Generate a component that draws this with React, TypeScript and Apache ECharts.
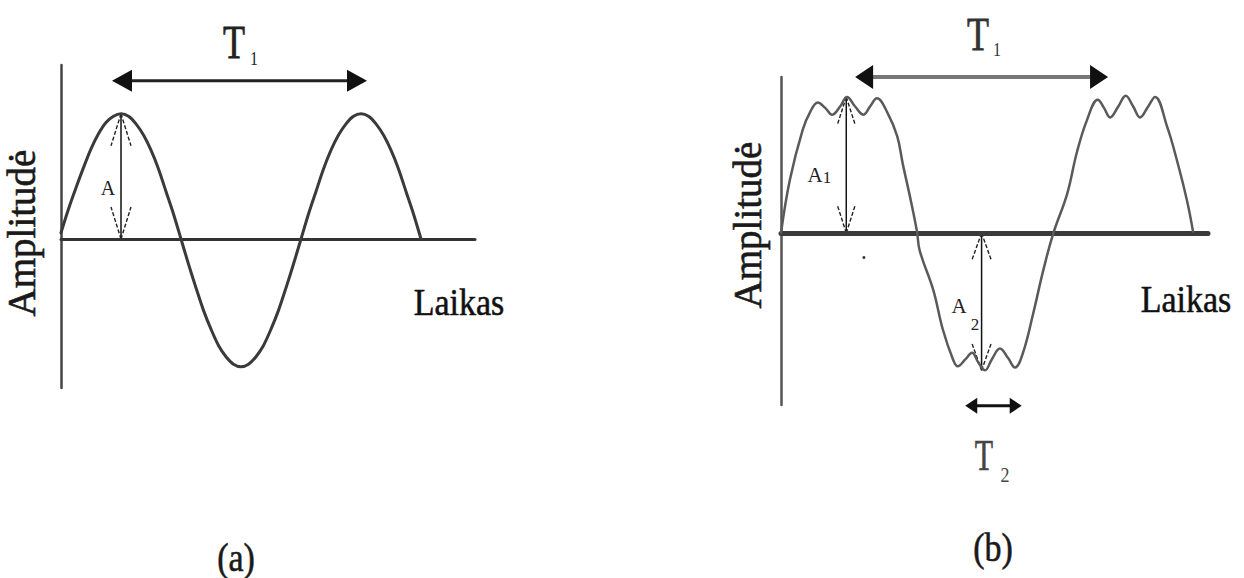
import React, { useEffect, useRef } from "react";
import * as echarts from "echarts";

// Panel (a): pure sine. Time in quarter-periods, amplitude relative to A.
const TIME_A = [0, 0.125, 0.25, 0.375, 0.5, 0.625, 0.75, 0.875, 1, 1.125, 1.25, 1.375, 1.5, 1.625, 1.75, 1.875, 2, 2.125, 2.25, 2.375, 2.5, 2.625, 2.75, 2.875, 3, 3.125, 3.25, 3.375, 3.5, 3.625, 3.75, 3.875, 4, 4.125, 4.25, 4.375, 4.5, 4.625, 4.75, 4.875, 5, 5.125, 5.25, 5.375, 5.5, 5.625, 5.75, 5.875, 6];
const AMP_A = [0.05, 0.24, 0.41, 0.57, 0.72, 0.84, 0.93, 0.98, 1.0, 0.98, 0.92, 0.83, 0.71, 0.56, 0.38, 0.2, 0.0, -0.2, -0.39, -0.57, -0.72, -0.85, -0.94, -1.0, -1.02, -1.0, -0.94, -0.85, -0.72, -0.57, -0.39, -0.2, 0.0, 0.2, 0.38, 0.56, 0.71, 0.83, 0.92, 0.98, 1.0, 0.98, 0.92, 0.83, 0.71, 0.56, 0.38, 0.2, 0.0];

// Panel (b): sine with a small ripple (T2) on top.
const TIME_B = [0, 0.13, 0.32, 0.43, 0.54, 0.65, 0.75, 0.87, 0.97, 1.09, 1.21, 1.31, 1.41, 1.57, 1.71, 1.79, 1.9, 2.0, 2.04, 2.24, 2.38, 2.53, 2.6, 2.71, 2.81, 2.9, 3.0, 3.1, 3.22, 3.34, 3.44, 3.56, 3.71, 3.85, 4.0, 4.21, 4.35, 4.5, 4.66, 4.75, 4.84, 4.96, 5.07, 5.18, 5.28, 5.4, 5.5, 5.68, 5.82, 5.97, 6.06];
const AMP_B = [0.0, 0.39, 0.76, 0.89, 0.96, 0.92, 0.87, 0.93, 1.0, 0.93, 0.87, 0.93, 0.99, 0.88, 0.71, 0.51, 0.26, 0.01, -0.13, -0.42, -0.71, -0.93, -0.98, -0.93, -0.88, -0.95, -1.01, -0.93, -0.85, -0.92, -0.99, -0.88, -0.59, -0.29, -0.01, 0.29, 0.59, 0.83, 0.98, 0.92, 0.85, 0.93, 1.01, 0.93, 0.85, 0.93, 1.0, 0.78, 0.54, 0.24, 0.01];

// Axis ranges (data units)
const X_RANGE_A = [0, 6.9];
const Y_RANGE_A = [-1.19, 1.39];
const X_RANGE_B = [0, 6.28];
const Y_RANGE_B = [-1.265, 1.147];

// Annotation anchors (data units)
const T1_A = [[0.85, 1.264], [5.1, 1.264]];
const AMP_ARROW_A = [[1.0, 1.0], [1.0, 0.0]];
const T1_B = [[1.09, 1.147], [4.81, 1.147]];
const A1_ARROW_B = [[0.96, 1.0], [0.96, 0.0]];
const A2_ARROW_B = [[2.95, 0.0], [2.95, -1.01]];
const T2_B = [[2.71, -1.27], [3.54, -1.27]];
const DOT_B = [1.22, -0.18];

const SERIF = "'Liberation Serif', 'Times New Roman', serif";

function zip(xs: number[], ys: number[]) {
  return xs.map((x, i) => [x, ys[i]]);
}

function hiddenAxis(gridIndex: number, range: number[], color: string, width: number) {
  return {
    type: "value",
    gridIndex,
    min: range[0],
    max: range[1],
    axisLine: { show: true, onZero: true, lineStyle: { color, width } },
    axisTick: { show: false },
    axisLabel: { show: false },
    splitLine: { show: false },
  };
}

export default function App() {
  const ref = useRef<HTMLDivElement>(null);

  useEffect(() => {
    const chart = echarts.init(ref.current!, null, { renderer: "svg" });
    chart.setOption({
      animation: false,
      backgroundColor: "#ffffff",
      grid: [
        { left: 61, top: 65, width: 414, height: 323 },
        { left: 781, top: 77, width: 427, height: 328 },
      ],
      xAxis: [hiddenAxis(0, X_RANGE_A, "#333", 3), hiddenAxis(1, X_RANGE_B, "#3a3a3a", 5)],
      yAxis: [hiddenAxis(0, Y_RANGE_A, "#444", 2.5), hiddenAxis(1, Y_RANGE_B, "#555", 2.5)],
      series: [
        {
          type: "line",
          xAxisIndex: 0,
          yAxisIndex: 0,
          data: zip(TIME_A, AMP_A),
          smooth: 0.3,
          showSymbol: false,
          clip: false,
          lineStyle: { color: "#3a3a3a", width: 3, cap: "round", join: "round" },
        },
        {
          type: "line",
          xAxisIndex: 1,
          yAxisIndex: 1,
          data: zip(TIME_B, AMP_B),
          smooth: 0.4,
          showSymbol: false,
          clip: false,
          lineStyle: { color: "#5a5a5a", width: 2.5, cap: "round", join: "round" },
        },
      ],
    });

    const px = (g: number, pt: number[]) => chart.convertToPixel({ gridIndex: g } as any, pt) as number[];

    const els: any[] = [];

    const filledArrow = (g: number, seg: number[][], lineColor: string, lw: number, headColor: string, len: number, half: number) => {
      const a = px(g, seg[0]);
      const b = px(g, seg[1]);
      const dx = b[0] - a[0], dy = b[1] - a[1];
      const L = Math.hypot(dx, dy);
      const ux = dx / L, uy = dy / L;
      const nx = -uy, ny = ux;
      els.push({
        type: "line",
        shape: { x1: a[0] + ux * len * 0.8, y1: a[1] + uy * len * 0.8, x2: b[0] - ux * len * 0.8, y2: b[1] - uy * len * 0.8 },
        style: { stroke: lineColor, lineWidth: lw },
      });
      const head = (tip: number[], dirx: number, diry: number) => {
        const bx = tip[0] - dirx * len, by = tip[1] - diry * len;
        els.push({
          type: "polygon",
          shape: { points: [[tip[0], tip[1]], [bx + nx * half, by + ny * half], [bx - nx * half, by - ny * half]] },
          style: { fill: headColor },
        });
      };
      head(b, ux, uy);
      head(a, -ux, -uy);
    };

    const openArrow = (g: number, seg: number[][], len: number, half: number) => {
      const a = px(g, seg[0]);
      const b = px(g, seg[1]);
      const dx = b[0] - a[0], dy = b[1] - a[1];
      const L = Math.hypot(dx, dy);
      const ux = dx / L, uy = dy / L;
      const nx = -uy, ny = ux;
      els.push({ type: "line", shape: { x1: a[0], y1: a[1], x2: b[0], y2: b[1] }, style: { stroke: "#111", lineWidth: 1.5 } });
      const arms = (tip: number[], dirx: number, diry: number) => {
        const bx = tip[0] - dirx * len, by = tip[1] - diry * len;
        [1, -1].forEach((s) => {
          els.push({
            type: "line",
            shape: { x1: tip[0], y1: tip[1], x2: bx + s * nx * half, y2: by + s * ny * half },
            style: { stroke: "#222", lineWidth: 1.4, lineDash: [4, 2] },
          });
        });
      };
      arms(a, -ux, -uy);
      arms(b, ux, uy);
    };

    filledArrow(0, T1_A, "#222", 3, "#111", 20, 11);
    filledArrow(1, T1_B, "#777", 4, "#111", 18, 12);
    filledArrow(1, T2_B, "#111", 3, "#111", 12, 8);
    openArrow(0, AMP_ARROW_A, 32, 10);
    openArrow(1, A1_ARROW_B, 28, 9);
    openArrow(1, A2_ARROW_B, 28, 10);

    const d = px(1, DOT_B);
    els.push({ type: "circle", shape: { cx: d[0], cy: d[1], r: 1.5 }, style: { fill: "#333" } });

    const text = (t: string, x: number, y: number, fs: number, opts: any = {}) => {
      const color = opts.color || "#1a1a1a";
      els.push({
        type: "text",
        x,
        y,
        rotation: opts.rot || 0,
        scaleY: opts.sy || 1,
        scaleX: opts.sx || 1,
        style: {
          text: t,
          fontFamily: SERIF,
          fontSize: fs,
          fill: color,
          stroke: opts.bold ? color : undefined,
          lineWidth: opts.bold ? opts.bold : 0,
          align: "center",
          verticalAlign: "middle",
        },
      });
    };

    text("Amplitudė", 21, 233, 39, { rot: Math.PI / 2, bold: 0.6 });
    text("Amplitudė", 747, 225, 39, { rot: Math.PI / 2, bold: 0.6 });
    text("Laikas", 459, 302, 34, { sy: 1.12, color: "#111", bold: 0.5 });
    text("Laikas", 1186, 299, 34, { sy: 1.12, color: "#111", bold: 0.5 });
    text("T", 234, 42, 36, { sy: 1.3, color: "#222", bold: 0.6 });
    text("1", 254, 58, 16, { sy: 1.2, color: "#222" });
    text("T", 978, 34, 36, { sy: 1.3, color: "#333", bold: 0.6 });
    text("1", 997, 49, 16, { sy: 1.2, color: "#333" });
    text("T", 984, 455, 30, { sy: 1.5, color: "#444", bold: 0.4 });
    text("2", 1005, 474, 18, { sy: 1.2, color: "#444" });
    text("A", 108, 188, 20, { color: "#222" });
    text("A", 815, 175, 21, { color: "#222" });
    text("1", 827, 177, 17, { color: "#222" });
    text("A", 959, 306, 21, { color: "#222" });
    text("2", 975, 324, 17, { color: "#222" });
    text("(a)", 236, 557, 34, { sy: 1.2, color: "#1a1a1a", bold: 0.5 });
    text("(b)", 993, 547, 34, { sy: 1.2, color: "#1a1a1a", bold: 0.5 });

    chart.setOption({ graphic: els });

    return () => chart.dispose();
  }, []);

  return (
    <div
      ref={ref}
      style={{ position: "fixed", left: 0, top: 0, width: 1244, height: 578, background: "#fff" }}
    />
  );
}
